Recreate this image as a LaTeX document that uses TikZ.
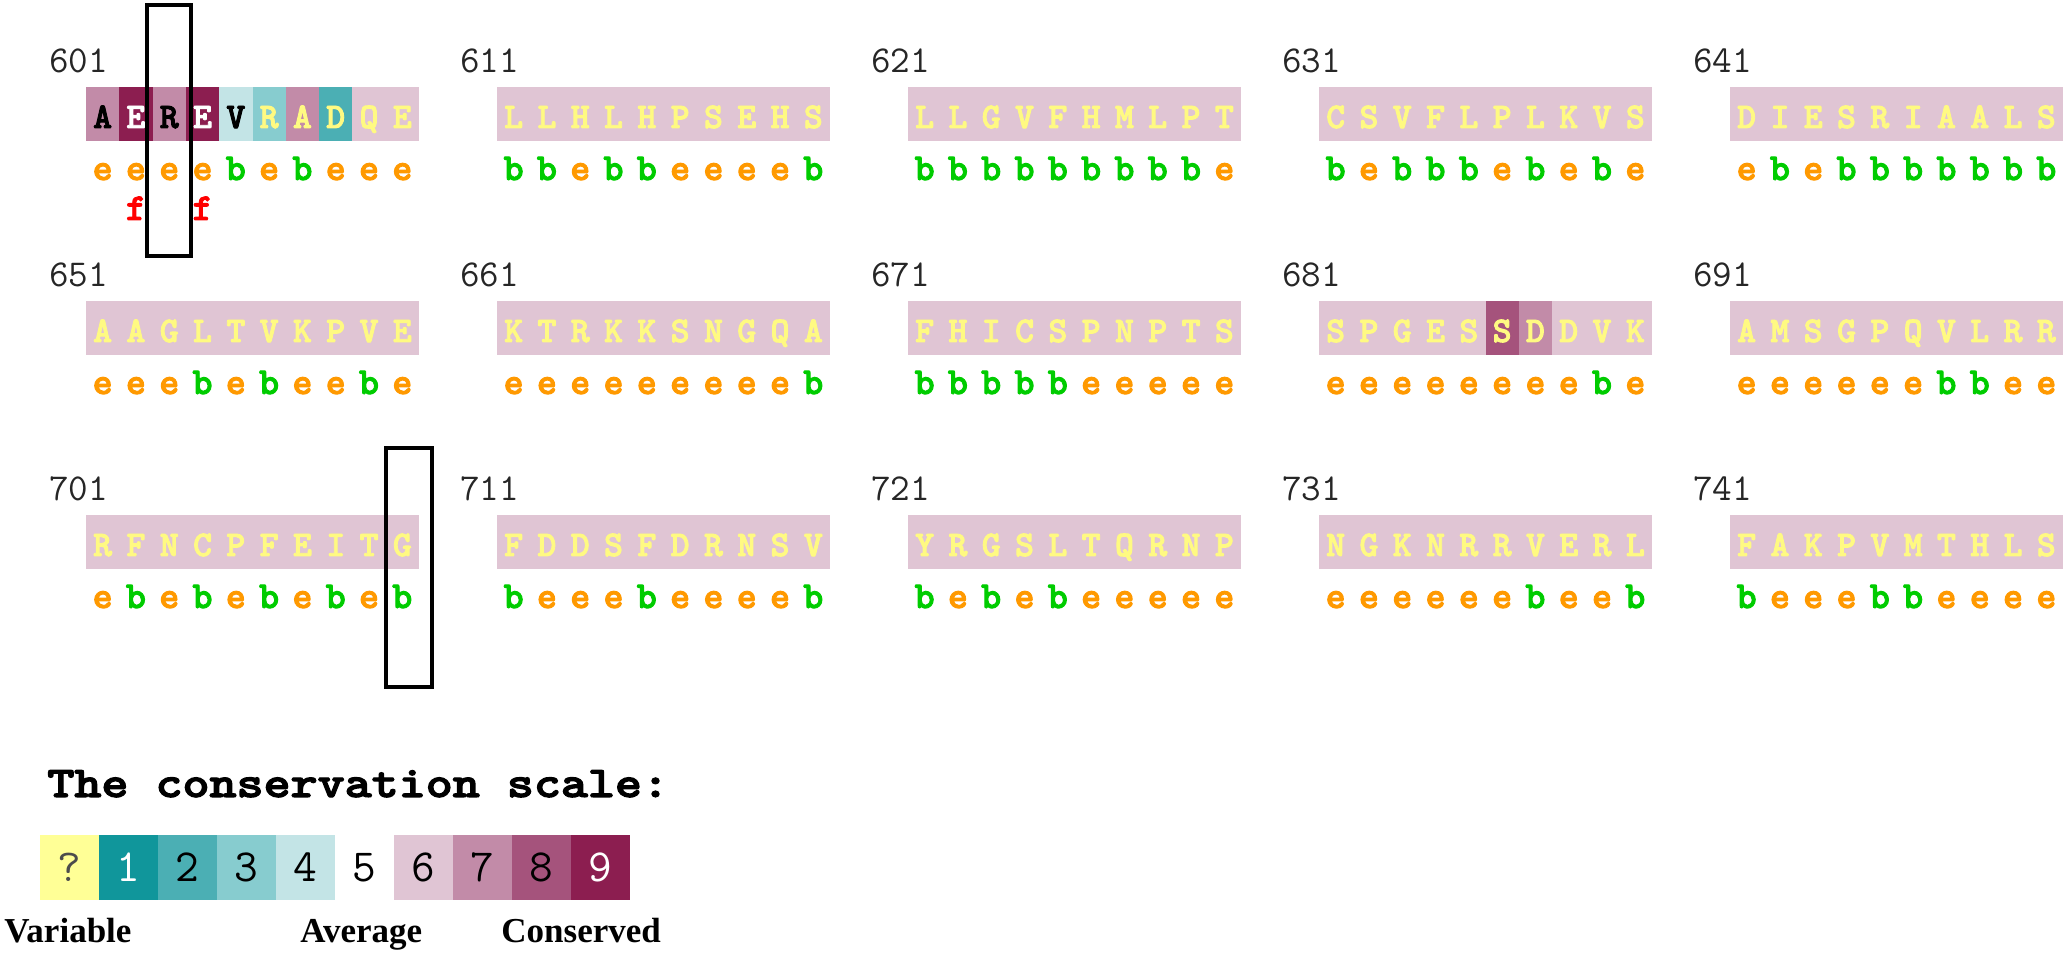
\documentclass[tikz,border=0pt]{standalone}
\usepackage{fontspec}
\usepackage{graphicx}
\usetikzlibrary{positioning}
\newfontfamily\labelfont{Liberation Serif}
\newfontfamily\resfont{lmmonolt10-bold.otf}[FakeBold=2.5]

\definecolor{gradeq}{RGB}{255,255,150}
\definecolor{grade1}{RGB}{16,150,155}
\definecolor{grade2}{RGB}{75,175,180}
\definecolor{grade3}{RGB}{135,204,207}
\definecolor{grade4}{RGB}{195,228,230}
\definecolor{grade5}{RGB}{255,255,255}
\definecolor{grade6}{RGB}{224,197,212}
\definecolor{grade7}{RGB}{194,139,168}
\definecolor{grade8}{RGB}{165,83,124}
\definecolor{grade9}{RGB}{140,30,80}
\definecolor{resyel}{RGB}{255,250,130}
\definecolor{acce}{RGB}{255,153,0}
\definecolor{accb}{RGB}{0,204,0}
\definecolor{accf}{RGB}{255,0,0}

\tikzset{
  resid/.style={font=\resfont\fontsize{18}{18}\selectfont, inner sep=0pt, anchor=base, text=resyel},
  accmark/.style={font=\resfont\fontsize{19}{19}\selectfont, inner sep=0pt, anchor=base},
  posnum/.style={font=\ttfamily\fontsize{19}{19}\selectfont, text=black!85, inner sep=0pt, anchor=base west},
  gradebox/.style={minimum width=29.5pt, minimum height=32.5pt, inner sep=0pt, outer sep=0pt, font=\ttfamily\fontsize{23}{23}\selectfont},
  scalelabel/.style={font=\labelfont\bfseries\fontsize{17.5}{17.5}\selectfont, inner sep=0pt, anchor=base west},
  hilite/.style={draw=black, line width=2pt},
}

\begin{document}
\begin{tikzpicture}[x=0.5pt,y=-0.5pt]
\useasboundingbox (0,0) rectangle (2068,956);

% block backgrounds
\foreach \bx in {0,...,4}
  \foreach \by in {0,1,2}
    \fill[grade6] ({86+411*\bx},{87+214*\by}) rectangle ++(333,54);

% cells with other grades
\foreach \g [count=\i from 0] in {7,9,7,9,4,3,7,2}
  \fill[fill=grade\g] ({86+33.3*\i},87) rectangle ++(33.3,54);
\fill[grade8] (1485.5,301) rectangle ++(33.3,54);
\fill[grade7] (1518.8,301) rectangle ++(33.3,54);

% first block
\node[posnum] (n601) at (49,73) {601};
\foreach \a/\fg [count=\i from 0] in {A/black,E/white,R/black,E/white,V/black,R/resyel,A/resyel,D/resyel,Q/resyel,E/resyel}
  \node[resid, text=\fg] (r601-\i) at ({102.65+33.3*\i},128) {\a};
\foreach \s [count=\i from 0] in {e,e,e,e,b,e,b,e,e,e}
  \node[accmark, text=acc\s] (s601-\i) at ({102.65+33.3*\i},180) {\s};
\node[accmark, text=accf] (f601-1) at (135.95,220) {f};
\node[accmark, text=accf] (f601-3) at (202.55,220) {f};

% the other blocks
\foreach \start/\bx/\by/\seq/\acc in {
  611/1/0/{L,L,H,L,H,P,S,E,H,S}/{b,b,e,b,b,e,e,e,e,b},
  621/2/0/{L,L,G,V,F,H,M,L,P,T}/{b,b,b,b,b,b,b,b,b,e},
  631/3/0/{C,S,V,F,L,P,L,K,V,S}/{b,e,b,b,b,e,b,e,b,e},
  641/4/0/{D,I,E,S,R,I,A,A,L,S}/{e,b,e,b,b,b,b,b,b,b},
  651/0/1/{A,A,G,L,T,V,K,P,V,E}/{e,e,e,b,e,b,e,e,b,e},
  661/1/1/{K,T,R,K,K,S,N,G,Q,A}/{e,e,e,e,e,e,e,e,e,b},
  671/2/1/{F,H,I,C,S,P,N,P,T,S}/{b,b,b,b,b,e,e,e,e,e},
  681/3/1/{S,P,G,E,S,S,D,D,V,K}/{e,e,e,e,e,e,e,e,b,e},
  691/4/1/{A,M,S,G,P,Q,V,L,R,R}/{e,e,e,e,e,e,b,b,e,e},
  701/0/2/{R,F,N,C,P,F,E,I,T,G}/{e,b,e,b,e,b,e,b,e,b},
  711/1/2/{F,D,D,S,F,D,R,N,S,V}/{b,e,e,e,b,e,e,e,e,b},
  721/2/2/{Y,R,G,S,L,T,Q,R,N,P}/{b,e,b,e,b,e,e,e,e,e},
  731/3/2/{N,G,K,N,R,R,V,E,R,L}/{e,e,e,e,e,e,b,e,e,b},
  741/4/2/{F,A,K,P,V,M,T,H,L,S}/{b,e,e,e,b,b,e,e,e,e}}{
  \node[posnum] (n\start) at ({49+411*\bx},{73+214*\by}) {\start};
  \foreach \a [count=\i from 0] in \seq
    \node[resid] (r\start-\i) at ({102.65+411*\bx+33.3*\i},{128+214*\by}) {\a};
  \foreach \s [count=\i from 0] in \acc
    \node[accmark, text=acc\s] (s\start-\i) at ({102.65+411*\bx+33.3*\i},{180+214*\by}) {\s};
}

% marked columns
\draw[hilite] (147,5) rectangle (191,256.5);
\draw[hilite] (386,448) rectangle (432,687);

% legend
\node[font=\resfont\fontsize{22}{22}\selectfont, inner sep=0pt, anchor=base west] (title) at (47,797) {\scalebox{1.17}[1]{The conservation scale:}};
\node[gradebox, fill=gradeq, anchor=north west, text=black!70] (gq) at (40,835) {?};
\foreach \g/\prev/\fg in {1/gq/white,2/g1/black,3/g2/black,4/g3/black,5/g4/black,6/g5/black,7/g6/black,8/g7/black,9/g8/white}
  \node[gradebox, fill=grade\g, text=\fg, right=0pt of \prev] (g\g) {\g};

\node[scalelabel] (lvar) at (4,942) {Variable};
\node[scalelabel] (lavg) at (300,942) {Average};
\node[scalelabel] (lcon) at (501,942) {Conserved};
\end{tikzpicture}
\end{document}
